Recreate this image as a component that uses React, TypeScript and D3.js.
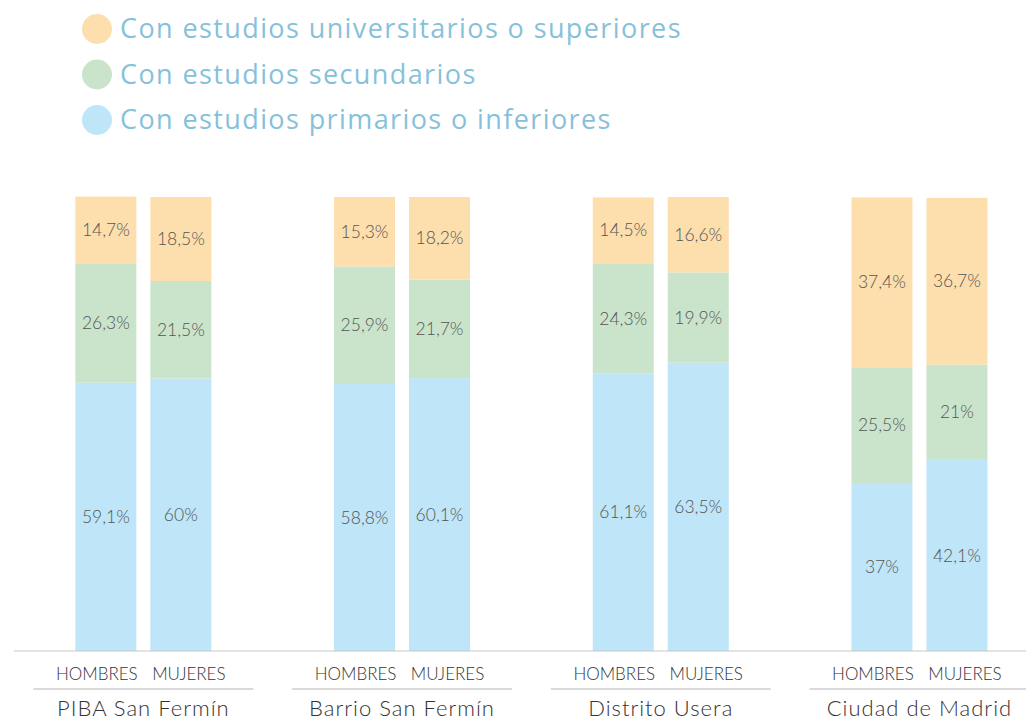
import React from "react";
import * as d3 from "d3";

const groups = ["PIBA San Fermín", "Barrio San Fermín", "Distrito Usera", "Ciudad de Madrid"];
const sexes = ["HOMBRES", "MUJERES"];
const seriesNames = [
  "Con estudios primarios o inferiores",
  "Con estudios secundarios",
  "Con estudios universitarios o superiores",
];
const legendOrder = [2, 1, 0];
// per group, [hombres, mujeres]
const primarios = [[59.1, 60], [58.8, 60.1], [61.1, 63.5], [37, 42.1]];
const secundarios = [[26.3, 21.5], [25.9, 21.7], [24.3, 19.9], [25.5, 21]];
const universitarios = [[14.7, 18.5], [15.3, 18.2], [14.5, 16.6], [37.4, 36.7]];
const labelsP = [["59,1%", "60%"], ["58,8%", "60,1%"], ["61,1%", "63,5%"], ["37%", "42,1%"]];
const labelsS = [["26,3%", "21,5%"], ["25,9%", "21,7%"], ["24,3%", "19,9%"], ["25,5%", "21%"]];
const labelsU = [["14,7%", "18,5%"], ["15,3%", "18,2%"], ["14,5%", "16,6%"], ["37,4%", "36,7%"]];

const colors = ["#bee5f8", "#c9e4cb", "#fddead"];

export default function App() {
  const W = 1026, H = 720;
  const x0 = d3.scaleBand<string>().domain(groups).range([14, 14 + 4 * 258.7]);
  const x1 = d3.scaleBand<string>().domain(sexes).range([0, 136]).paddingInner(14 / 75);
  const y = d3.scaleLinear().domain([0, 100]).range([651, 197]);
  const series = [primarios, secundarios, universitarios];
  const labels = [labelsP, labelsS, labelsU];
  const valueFont = "Lato, 'Noto Sans', sans-serif";

  const bars: React.ReactNode[] = [];
  groups.forEach((g, gi) => {
    const gc = (x0(g) as number) + x0.bandwidth() / 2;
    sexes.forEach((s, si) => {
      const bx = gc - 68 + (x1(s) as number);
      let cum = 0;
      series.forEach((ser, k) => {
        const v = ser[gi][si];
        const yTop = y(cum + v);
        const yBot = y(cum);
        cum += v;
        bars.push(
          <rect key={`r${gi}${si}${k}`} x={bx} y={yTop} width={x1.bandwidth()} height={yBot - yTop} fill={colors[k]} />
        );
        bars.push(
          <text key={`t${gi}${si}${k}`} x={bx + x1.bandwidth() / 2} y={(yTop + yBot) / 2} dy="0.35em"
            textAnchor="middle" fontFamily={valueFont} fontWeight={300} fontSize={17.5} fill="#555">
            {labels[k][gi][si]}
          </text>
        );
      });
    });
  });

  return (
    <svg width={W} height={H} style={{ position: "absolute", left: 0, top: 0 }}>
      {legendOrder.map((k, i) => (
        <g key={`lg${k}`} transform={`translate(0, ${29 + i * 45.5})`}>
          <circle cx={97} cy={0} r={15} fill={colors[k]} />
          <text x={120} y={0} dy="0.35em" fontFamily="'Open Sans', sans-serif" fontWeight={400} fontSize={27} fill="#86c1db" letterSpacing={1.4}>
            {seriesNames[k]}
          </text>
        </g>
      ))}
      {bars}
      <line x1={14} x2={W} y1={651} y2={651} stroke="#c8c8c8" strokeWidth={1.2} />
      {groups.map((g) => {
        const gc = (x0(g) as number) + x0.bandwidth() / 2;
        return (
          <g key={`ax${g}`}>
            {sexes.map((s, si) => (
              <text key={s} x={gc - 68 + (x1(s) as number) + x1.bandwidth() / 2 + (si === 0 ? -9 : 8)} y={674} dy="0.35em"
                textAnchor="middle" fontFamily={valueFont} fontWeight={300} fontSize={17} fill="#333">
                {s}
              </text>
            ))}
            <line x1={gc - 110} x2={gc + 110} y1={689} y2={689} stroke="#b5b5b5" strokeWidth={1.2} />
            <text x={gc} y={708} dy="0.35em" textAnchor="middle" fontFamily={valueFont} fontWeight={300}
              fontSize={22} letterSpacing={1} fill="#333">
              {g}
            </text>
          </g>
        );
      })}
    </svg>
  );
}
